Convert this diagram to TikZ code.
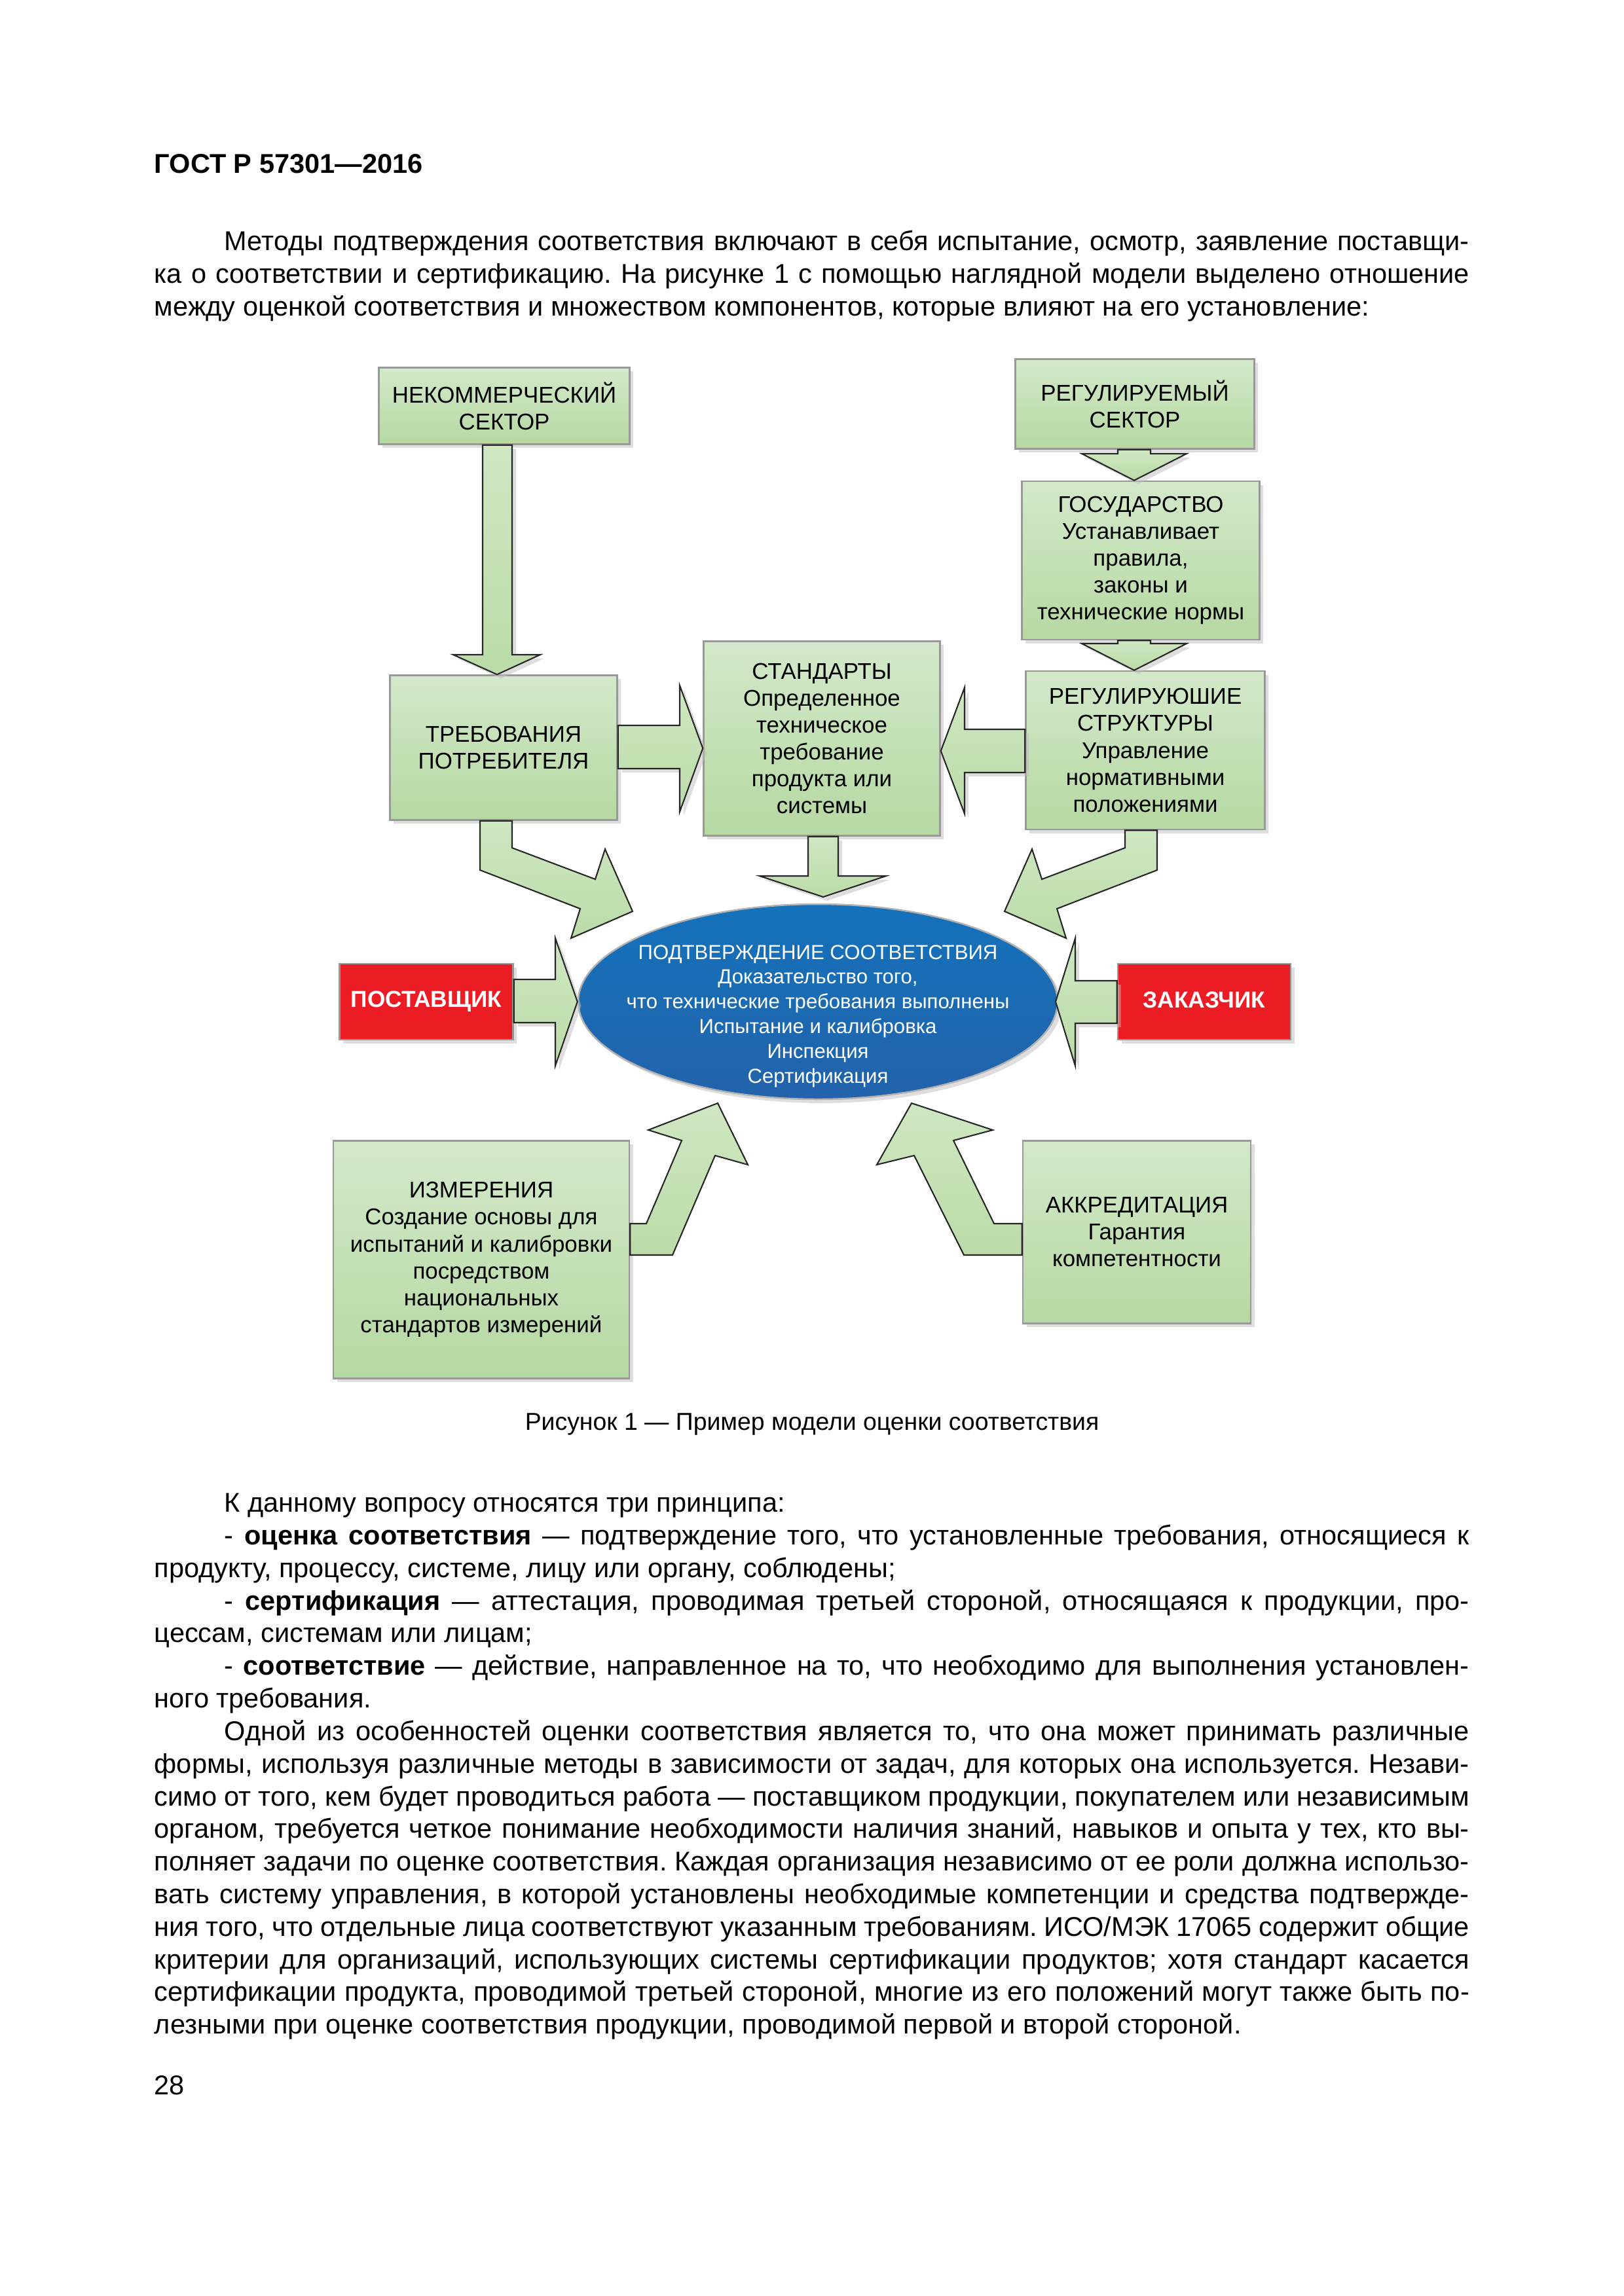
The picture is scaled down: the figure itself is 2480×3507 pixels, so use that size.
\documentclass[tikz,border=0pt]{standalone}
\usepackage{fontspec}
\setmainfont{Liberation Sans}
\usetikzlibrary{calc,shapes.geometric,shadows}
\definecolor{BoxTop}{HTML}{D3E9CA}
\definecolor{BoxBot}{HTML}{B6D8A2}
\definecolor{ArrTop}{HTML}{CFE7C2}
\definecolor{ArrBot}{HTML}{BBDBA8}
\definecolor{SupRed}{HTML}{EC1C24}
\definecolor{ConfTop}{HTML}{1472BB}
\definecolor{ConfBot}{HTML}{2263AA}
\newlength\px \setlength\px{0.0846667mm}
\newlength\bodyw \setlength\bodyw{170mm}
\newlength\bodyind \setlength\bodyind{9.06mm}
\newcommand\jl[1]{\makebox[\bodyw][s]{#1}}
\newcommand\jli[1]{\hspace*{\bodyind}\makebox[\dimexpr\bodyw-\bodyind\relax][s]{#1}}
\frenchspacing

\begin{document}
\begin{tikzpicture}[
      x=0.0846667mm,y=-0.0846667mm,
      wh/.style 2 args={minimum width=#1\px,minimum height=#2\px},
      shadowed/.style={drop shadow={shadow xshift=0.5mm,shadow yshift=-0.5mm,fill=black!25,opacity=0.5}},
      box/.style={draw=black!40,line width=0.6pt,top color=BoxTop,bottom color=BoxBot,
        inner sep=0pt,align=center,font=\fontsize{8.4}{9.9}\selectfont,shadowed},
      party/.style={draw=black!40,line width=0.6pt,fill=SupRed,text=white,inner sep=0pt,
        font=\bfseries\fontsize{8.5}{10}\selectfont,shadowed},
      conf/.style={ellipse,draw=black!30,line width=0.6pt,top color=ConfTop,bottom color=ConfBot,
        inner sep=0pt,shadowed},
      conftext/.style={text=white,align=center,inner sep=0pt,font=\fontsize{7.5}{9.1}\selectfont},
      blk/.style={draw=black!85,line width=0.5pt,line join=miter,top color=ArrTop,bottom color=ArrBot},
      blks/.style={blk,shadowed},
      bodytext/.style={anchor=north west,inner sep=0pt,align=left,font=\fontsize{10}{12}\selectfont}
    ]
    \fill[white] (0,0) rectangle (2480,3507);
    \path[use as bounding box] (0,0) rectangle (2480,3507);

    % page text above the figure
    \node[anchor=base west,inner sep=0pt,font=\bfseries\fontsize{10}{12}\selectfont] (gost) at (235,264)
      {ГОСТ Р 57301—2016};
    \node[bodytext] (intro) at (235,347)
      {\strut\jli{Методы подтверждения соответствия включают в себя испытание, осмотр, заявление поставщи-}\\
       \jl{ка о соответствии и сертификацию. На рисунке 1 с помощью наглядной модели выделено отношение}\\
       между оценкой соответствия и множеством компонентов, которые влияют на его установление:};

    % boxes
    \node[box,wh={383}{117}] (nonkom) at (770,620) {НЕКОММЕРЧЕСКИЙ\\СЕКТОР};
    \node[box,wh={365}{137}] (regsec) at (1733,617) {РЕГУЛИРУЕМЫЙ\\СЕКТОР};
    \node[box,wh={363}{242}] (gov) at (1742,856)
      {ГОСУДАРСТВО\\Устанавливает\\правила,\\законы и\\технические нормы};
    \node[box,wh={347}{221}] (req) at (769,1142) {ТРЕБОВАНИЯ\\ПОТРЕБИТЕЛЯ};
    \node[box,wh={361}{297}] (std) at (1255,1128)
      {СТАНДАРТЫ\\Определенное\\техническое\\требование\\продукта или\\системы};
    \node[box,wh={365}{242}] (regstr) at (1749,1146)
      {РЕГУЛИРУЮШИЕ\\СТРУКТУРЫ\\Управление\\нормативными\\положениями};
    \node[party,wh={265}{116}] (supplier) at (651,1530) {ПОСТАВЩИК};
    \node[party,wh={264}{116}] (customer) at (1839,1530) {\raisebox{1.2pt}{ЗАКАЗЧИК}};
    \node[conf,wh={732}{298}] (conf) at (1249,1530) {};
    \node[conftext] (conftxt) at (1249,1552)
      {ПОДТВЕРЖДЕНИЕ СООТВЕТСТВИЯ\\Доказательство того,\\что технические требования выполнены\\
       Испытание и калибровка\\Инспекция\\Сертификация};
    \node[box,wh={452}{363}] (meas) at (735,1924)
      {ИЗМЕРЕНИЯ\\Создание основы для\\испытаний и калибровки\\посредством\\национальных\\стандартов измерений};
    \node[box,wh={348}{279}] (accr) at (1736,1882) {АККРЕДИТАЦИЯ\\Гарантия\\компетентности};

    % straight block arrows
    \draw[blks] (737,0 |- nonkom.south) -- (782,0 |- nonkom.south) -- (782,1000) -- (825,1000)
      -- (759,0 |- req.north) -- (692,1000) -- (737,1000) -- cycle;
    \draw[blks] (1707,0 |- regsec.south) -- (1757,0 |- regsec.south) -- (1757,693) -- (1812,693)
      -- (1732,0 |- gov.north) -- (1652,693) -- (1707,693) -- cycle;
    \draw[blks] (1707,0 |- gov.south) -- (1757,0 |- gov.south) -- (1757,983) -- (1812,983)
      -- (1732,0 |- regstr.north) -- (1652,983) -- (1707,983) -- cycle;
    \draw[blks] (1234,0 |- std.south) -- (1280,0 |- std.south) -- (1280,1338) -- (1353,1338)
      -- (1257,1370) -- (1160,1338) -- (1234,1338) -- cycle;
    \draw[blks] (req.east |- 0,1108) -- (1038,1108) -- (1038,1047) -- (std.west |- 0,1143)
      -- (1038,1240) -- (1038,1174) -- (req.east |- 0,1174) -- cycle;
    \draw[blks] (regstr.west |- 0,1114) -- (1473,1114) -- (1473,1050) -- (std.east |- 0,1147)
      -- (1473,1243) -- (1473,1180) -- (regstr.west |- 0,1180) -- cycle;
    \draw[blks] (supplier.east |- 0,1496) -- (848,1496) -- (848,1433) -- (conf.west |- 0,1530)
      -- (848,1628) -- (848,1562) -- (supplier.east |- 0,1562) -- cycle;
    \draw[blks] (customer.west |- 0,1498) -- (1642,1498) -- (1642,1433) -- (1612,1530)
      -- (1642,1628) -- (1642,1563) -- (customer.west |- 0,1563) -- cycle;

    % bent block arrows
    \draw[blk] (733,0 |- req.south) -- (782,0 |- req.south) -- (782,1295) -- (909,1343) -- (924,1297)
      -- (966,1392) -- (872,1433) -- (886,1388) -- (733,1329) -- cycle;
    \draw[blk] (1767,0 |- regstr.south) -- (1718,0 |- regstr.south) -- (1718,1295) -- (1591,1343)
      -- (1576,1297) -- (1534,1392) -- (1628,1433) -- (1614,1388) -- (1767,1329) -- cycle;
    \draw[blk] (meas.east |- 0,1869) -- (987,1869) -- (1041,1742) -- (990,1726) -- (1096,1685)
      -- (1142,1779) -- (1092,1765) -- (1027,1917) -- (meas.east |- 0,1917) -- cycle;
    \draw[blk] (accr.west |- 0,1869) -- (1518,1869) -- (1456,1742) -- (1516,1726) -- (1392,1685)
      -- (1339,1779) -- (1396,1765) -- (1472,1917) -- (accr.west |- 0,1917) -- cycle;

    \node[anchor=base,inner sep=0pt,font=\fontsize{9}{11}\selectfont] (caption) at (1240,2184)
      {Рисунок 1 — Пример модели оценки соответствия};

    % page text below the figure
    \node[bodytext] (principles) at (235,2274)
      {\strut\hspace*{\bodyind}К данному вопросу относятся три принципа:\\
       \jli{- \textbf{оценка соответствия} — подтверждение того, что установленные требования, относящиеся к}\\
       продукту, процессу, системе, лицу или органу, соблюдены;\\
       \jli{- \textbf{сертификация} — аттестация, проводимая третьей стороной, относящаяся к продукции, про-}\\
       цессам, системам или лицам;\\
       \jli{- \textbf{соответствие} — действие, направленное на то, что необходимо для выполнения установлен-}\\
       ного требования.\\
       \jli{Одной из особенностей оценки соответствия является то, что она может принимать различные}\\
       \jl{формы, используя различные методы в зависимости от задач, для которых она используется. Незави-}\\
       \jl{симо от того, кем будет проводиться работа — поставщиком продукции, покупателем или независимым}\\
       \jl{органом, требуется четкое понимание необходимости наличия знаний, навыков и опыта у тех, кто вы-}\\
       \jl{полняет задачи по оценке соответствия. Каждая организация независимо от ее роли должна использо-}\\
       \jl{вать систему управления, в которой установлены необходимые компетенции и средства подтвержде-}\\
       \jl{ния того, что отдельные лица соответствуют указанным требованиям. ИСО/МЭК 17065 содержит общие}\\
       \jl{критерии для организаций, использующих системы сертификации продуктов; хотя стандарт касается}\\
       \jl{сертификации продукта, проводимой третьей стороной, многие из его положений могут также быть по-}\\
       лезными при оценке соответствия продукции, проводимой первой и второй стороной.};
    \node[anchor=base west,inner sep=0pt,font=\fontsize{10}{12}\selectfont] (pageno) at (235,3199) {28};
  \end{tikzpicture}
\end{document}
